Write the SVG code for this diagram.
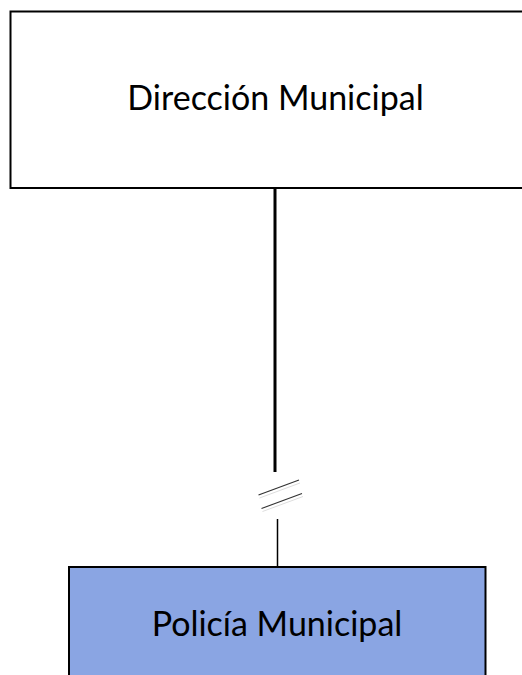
<svg xmlns="http://www.w3.org/2000/svg" width="522" height="675" viewBox="0 0 522 675">
<style>
.box{stroke:#000;stroke-width:2}
.lbl{font-family:Lato,"Open Sans",sans-serif;font-size:34px;fill:#000;text-anchor:middle}
.brk{stroke:#333;stroke-width:1.2}
.brks{stroke:#ddd;stroke-width:1}
</style>
<rect width="522" height="675" fill="#fff"/>
<g id="connectors">
<line x1="275" y1="188" x2="275" y2="472" stroke="#000" stroke-width="3"/>
<line x1="258.5" y1="495" x2="299" y2="480" class="brk"/>
<line x1="259.5" y1="498" x2="300" y2="483" class="brks"/>
<line x1="261.5" y1="508.5" x2="302" y2="493.5" class="brk"/>
<line x1="262.5" y1="511.5" x2="303" y2="496.5" class="brks"/>
<line x1="277.5" y1="519" x2="277.5" y2="567" stroke="#000" stroke-width="1.5"/>
</g>
<g id="direccion">
<rect x="10.5" y="11.5" width="520" height="176.5" fill="#fff" class="box"/>
<text x="275.5" y="110" class="lbl">Dirección Municipal</text>
</g>
<g id="policia">
<rect x="69" y="567" width="416.5" height="120" fill="#8aa5e3" class="box"/>
<text x="277" y="636" class="lbl">Policía Municipal</text>
</g>
</svg>
